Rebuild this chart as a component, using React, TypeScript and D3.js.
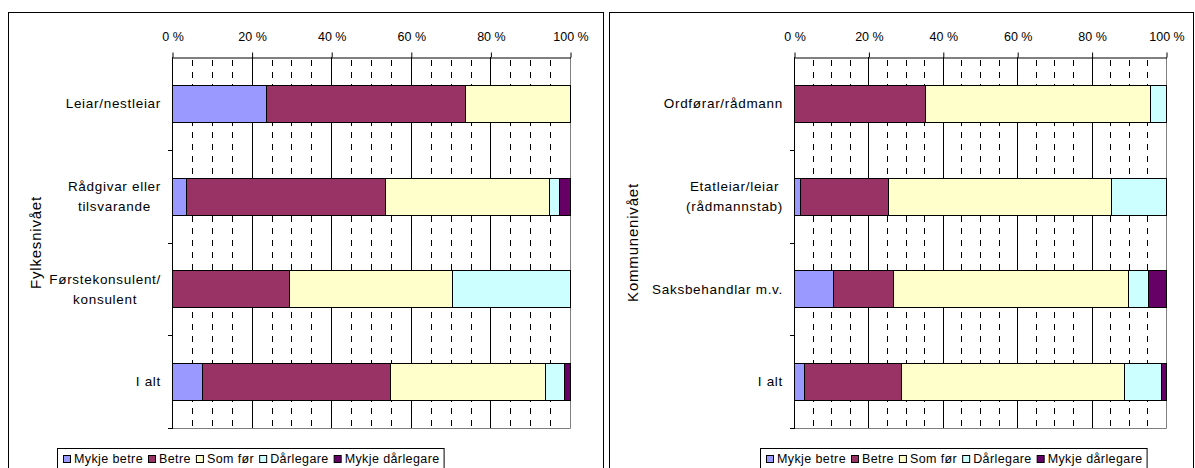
import { useEffect, useRef } from "react";
import * as d3 from "d3";

// categories, top to bottom
const fylkeCategories = [["Leiar/nestleiar"], ["Rådgivar eller", "tilsvarande"], ["Førstekonsulent/", "konsulent"], ["I alt"]];
const kommuneCategories = [["Ordførar/rådmann"], ["Etatleiar/leiar", "(rådmannstab)"], ["Saksbehandlar m.v."], ["I alt"]];

const seriesNames = ["Mykje betre", "Betre", "Som før", "Dårlegare", "Mykje dårlegare"];
const seriesColors = ["#9999FF", "#993366", "#FFFFCC", "#CCFFFF", "#660066"];

// Fylkesnivået (%)
const fylkeMykjeBetre = [23.5, 3.6, 0, 7.5];
const fylkeBetre = [50, 50, 29.4, 47.3];
const fylkeSomFor = [26.5, 41.2, 41, 38.8];
const fylkeDarlegare = [0, 2.4, 29.6, 4.8];
const fylkeMykjeDarlegare = [0, 2.8, 0, 1.6];

// Kommunenivået (%)
const kommuneMykjeBetre = [0, 1.7, 10.6, 2.8];
const kommuneBetre = [35.1, 23.6, 15.9, 26];
const kommuneSomFor = [60.5, 59.8, 63.2, 60];
const kommuneDarlegare = [4.4, 14.9, 5.4, 9.8];
const kommuneMykjeDarlegare = [0, 0, 4.9, 1.4];

const xTicks = [0, 20, 40, 60, 80, 100];

const FONT = "'Liberation Sans', Arial, sans-serif";

const drawPanel = (svg, opt) => {
  const { frame, plot, title, titleX, categories, values, legend } = opt;
  const g = svg.append("g");

  // outer chart border
  g.append("rect")
    .attr("x", frame[0] + 0.5).attr("y", frame[1] + 0.5)
    .attr("width", frame[2]).attr("height", frame[3])
    .attr("fill", "#fff").attr("stroke", "#000");

  const keys = categories.map((c) => c.join(" "));
  const rows = keys.map((k, i) => {
    const r = { key: k };
    seriesNames.forEach((s, j) => (r[s] = values[j][i]));
    return r;
  });

  const x = d3.scaleLinear([0, 100], [plot.left, plot.right]);
  const y = d3.scaleBand(keys, [plot.top, plot.bottom]).paddingInner(0.6).paddingOuter(0.3);

  // minor dashed gridlines every 5 %
  g.append("g")
    .selectAll("line")
    .data(d3.range(5, 100, 5).filter((v) => v % 20 !== 0))
    .join("line")
    .attr("x1", (d) => Math.round(x(d)) + 0.5).attr("x2", (d) => Math.round(x(d)) + 0.5)
    .attr("y1", plot.top + 3).attr("y2", plot.bottom)
    .attr("stroke", "#000").attr("stroke-width", 1)
    .attr("stroke-dasharray", "6,6");

  // major gridlines
  g.append("g")
    .selectAll("line")
    .data([20, 40, 60, 80])
    .join("line")
    .attr("x1", (d) => Math.round(x(d)) + 0.5).attr("x2", (d) => Math.round(x(d)) + 0.5)
    .attr("y1", plot.top).attr("y2", plot.bottom)
    .attr("stroke", "#000");

  // plot area border right/bottom
  g.append("path")
    .attr("d", `M${Math.round(x(100)) + 0.5},${plot.top}V${plot.bottom + 0.5}H${plot.left}`)
    .attr("fill", "none").attr("stroke", "#808080");

  // stacked bars
  const stack = d3.stack().keys(seriesNames)(rows);
  g.append("g")
    .selectAll("g")
    .data(stack)
    .join("g")
    .attr("fill", (d, i) => seriesColors[i])
    .selectAll("rect")
    .data((d) => d.filter((p) => p[1] - p[0] > 0))
    .join("rect")
    .attr("x", (d) => Math.round(x(d[0])) + 0.5)
    .attr("width", (d) => Math.round(x(d[1])) - Math.round(x(d[0])))
    .attr("y", (d) => Math.round(y(d.data.key)) + 0.5)
    .attr("height", Math.round(y.bandwidth()))
    .attr("stroke", "#000").attr("stroke-width", 1);

  // top axis
  const axis = g.append("g")
    .attr("transform", `translate(0.5,${plot.top + 0.5})`)
    .call(d3.axisTop(x).tickValues(xTicks).tickFormat((d) => d + " %").tickSizeInner(5).tickSizeOuter(0).tickPadding(12));
  axis.select(".domain").attr("stroke", "#000");
  axis.selectAll(".tick line").attr("stroke", "#000");
  axis.selectAll("text").attr("font-family", FONT).attr("font-size", 12.5).attr("fill", "#000");

  // left category axis
  const step = y.step();
  const bounds = d3.range(keys.length + 1).map((i) => plot.top + i * step);
  g.append("line")
    .attr("x1", plot.left + 0.5).attr("x2", plot.left + 0.5)
    .attr("y1", plot.top).attr("y2", plot.bottom + 1)
    .attr("stroke", "#000");
  g.append("g")
    .selectAll("line")
    .data(bounds.slice(1))
    .join("line")
    .attr("x1", plot.left - 4).attr("x2", plot.left)
    .attr("y1", (d) => Math.round(d) + 0.5).attr("y2", (d) => Math.round(d) + 0.5)
    .attr("stroke", "#000");

  // category labels
  categories.forEach((lines, i) => {
    const cy = y(keys[i]) + y.bandwidth() / 2;
    const t = g.append("text")
      .attr("font-family", FONT).attr("font-size", 13.5).attr("letter-spacing", 0.7)
      .attr("fill", "#000").attr("text-anchor", "middle");
    const lh = 20;
    lines.forEach((l, k) => {
      t.append("tspan").text(l)
        .attr("y", cy + (k - (lines.length - 1) / 2) * lh)
        .attr("dy", "0.35em");
    });
    const tspans = t.selectAll("tspan").nodes();
    const w = d3.max(tspans, (n) => n.getComputedTextLength());
    t.selectAll("tspan").attr("x", plot.left - 11 - w / 2);
  });

  // axis title
  g.append("text")
    .attr("transform", `translate(${titleX},${(plot.top + plot.bottom) / 2}) rotate(-90)`)
    .attr("text-anchor", "middle").attr("dy", "0.35em")
    .attr("font-family", FONT).attr("font-size", 15).attr("letter-spacing", 0.8)
    .text(title);

  // legend
  const lg = g.append("g");
  const box = lg.append("rect")
    .attr("x", legend.x + 0.5).attr("y", legend.y + 0.5)
    .attr("height", 24).attr("fill", "#fff").attr("stroke", "#000");
  let cx = legend.x + 6;
  seriesNames.forEach((s, i) => {
    lg.append("rect")
      .attr("x", cx + 0.5).attr("y", legend.y + 7.5)
      .attr("width", 7).attr("height", 7)
      .attr("fill", seriesColors[i]).attr("stroke", "#000");
    const t = lg.append("text")
      .attr("x", cx + 11).attr("y", legend.y + 11).attr("dy", "0.35em")
      .attr("font-family", FONT).attr("font-size", 12.5).attr("letter-spacing", 0.4)
      .text(s);
    cx += 11 + t.node().getComputedTextLength() + 5;
  });
  box.attr("width", cx - legend.x - 1);
};

const App = () => {
  const ref = useRef(null);

  useEffect(() => {
    const node = ref.current;
    if (!node) return;
    const svg = d3.select(node);
    svg.selectAll("*").remove();

    drawPanel(svg, {
      frame: [8, 12, 595, 470],
      plot: { left: 172, right: 570, top: 57, bottom: 428 },
      title: "Fylkesnivået",
      titleX: 36,
      categories: fylkeCategories,
      values: [fylkeMykjeBetre, fylkeBetre, fylkeSomFor, fylkeDarlegare, fylkeMykjeDarlegare],
      legend: { x: 57, y: 448 },
    });

    drawPanel(svg, {
      frame: [609, 12, 584, 470],
      plot: { left: 794, right: 1166, top: 57, bottom: 428 },
      title: "Kommunenivået",
      titleX: 633,
      categories: kommuneCategories,
      values: [kommuneMykjeBetre, kommuneBetre, kommuneSomFor, kommuneDarlegare, kommuneMykjeDarlegare],
      legend: { x: 760, y: 448 },
    });
  }, []);

  return (
    <svg
      ref={ref}
      width={1195}
      height={468}
      style={{ position: "absolute", left: 0, top: 0, background: "#fff" }}
    />
  );
};

export default App;
